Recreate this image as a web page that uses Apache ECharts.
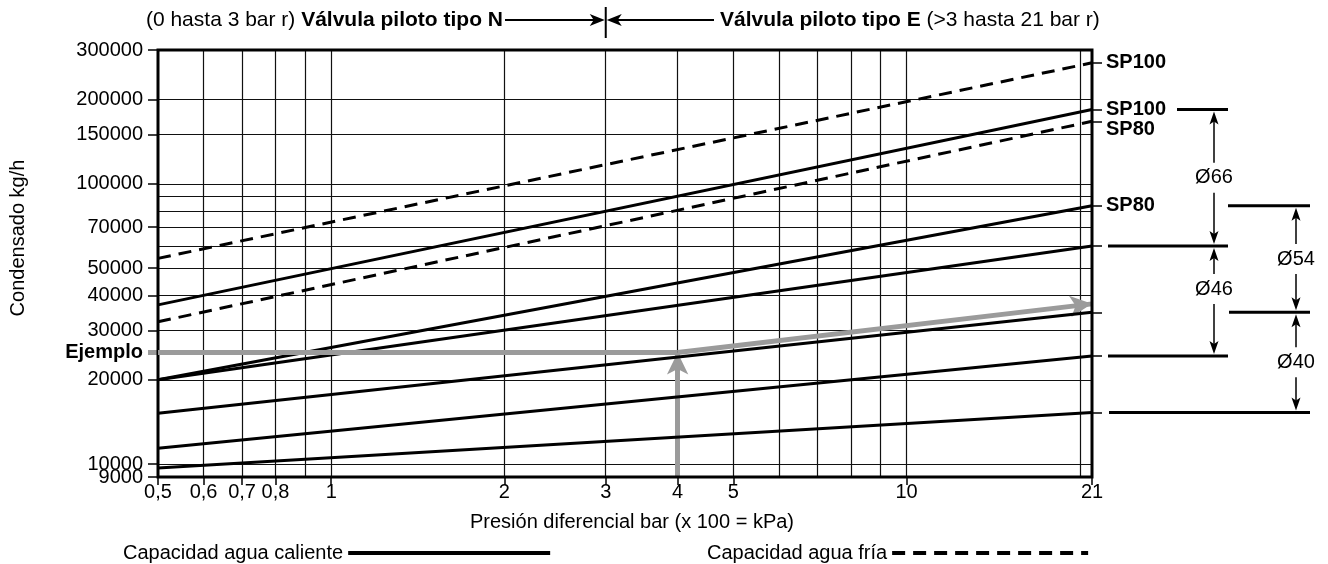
<!DOCTYPE html>
<html><head><meta charset="utf-8">
<script src="https://cdn.jsdelivr.net/npm/echarts@6/dist/echarts.min.js"></script>
<style>html,body{margin:0;padding:0;background:#fff}#c{width:1328px;height:564px}</style>
</head><body><div id="c"></div>
<script>
// ---- data ----
const xTickLabels = [0.5, 0.6, 0.7, 0.8, 1, 2, 3, 4, 5, 10, 21];
const yTickLabels = [9000, 10000, 20000, 30000, 40000, 50000, 70000, 100000, 150000, 200000, 300000];
const xGrid = [0.6, 0.7, 0.8, 0.9, 1, 2, 3, 4, 5, 6, 7, 8, 9, 10, 20];
const yGrid = [10000, 20000, 30000, 40000, 50000, 60000, 70000, 80000, 90000, 100000, 150000, 200000];
const pressureEnds = [0.5, 21];            // bar
// hot water capacity (solid), kg/h at 0.5 and 21 bar
const hotSP100 = [37000, 184000];
const hotSP80 = [20000, 83500];
const hotC = [20000, 60000];
const hotD = [15200, 34800];
const hotE = [11400, 24300];
const hotF = [9700, 15300];
// cold water capacity (dashed)
const coldSP100 = [54200, 270000];
const coldSP80 = [32200, 167000];
// example
const examplePressure = 4;
const exampleFlow = 25000;
const exampleEnd = [21, 37300];
// size bands on the right: [label, upper flow, lower flow]
const bands = [['Ø66', 184000, 60000], ['Ø46', 60000, 24300], ['Ø54', 83500, 34800], ['Ø40', 34800, 15300]];

const hotName = 'Capacidad agua caliente', coldName = 'Capacidad agua fría';
const F = '"Liberation Sans", Arial, Helvetica, sans-serif';
const FS = 20;

function seg(ends) { return [[pressureEnds[0], ends[0]], [pressureEnds[1], ends[1]]]; }
function curve(name, ends, dashed, label, off) {
  return {
    type: 'line', name: name, data: seg(ends), symbol: 'none', z: 5, silent: true,
    itemStyle: { color: '#000' },
    lineStyle: { color: '#000', width: 3, type: dashed ? [13, 8] : 'solid' },
    endLabel: label ? { show: true, formatter: label, distance: 14, offset: off || [0, 0],
      fontFamily: F, fontSize: FS, fontWeight: 'bold', color: '#000' } : { show: false }
  };
}
const gray = '#9b9b9b';
const chart = echarts.init(document.getElementById('c'));
const legendCommon = { top: 538, align: 'right', itemHeight: 14, selectedMode: false,
  itemStyle: { opacity: 0 }, lineStyle: { width: 4 }, textStyle: { fontFamily: F, fontSize: FS, color: '#000' } };
const logY = { type: 'log', logBase: 10, min: 9000, max: 300000, axisLine: { show: false }, splitLine: { show: false } };
const yLabelStyle = { margin: 15, fontFamily: F, fontSize: FS, color: '#000', showMinLabel: true, showMaxLabel: true,
  hideOverlap: false, formatter: v => String(Math.round(v)) };
const option = {
  animation: false,
  grid: { left: 158, right: 236, top: 50, bottom: 87, show: true, borderColor: '#000', borderWidth: 3, z: 6 },
  xAxis: {
    type: 'log', logBase: 10, min: 0.5, max: 21,
    axisLine: { show: false },
    axisTick: { show: true, customValues: xTickLabels, length: 8, inside: false, lineStyle: { color: '#000', width: 1.5 } },
    axisLabel: { customValues: xTickLabels, margin: 5, fontFamily: F, fontSize: FS, color: '#000',
      showMinLabel: true, showMaxLabel: true, hideOverlap: false,
      formatter: v => String(v).replace('.', ',') },
    splitLine: { show: false }, minorSplitLine: { show: false }
  },
  yAxis: [
    Object.assign({}, logY, { position: 'left',
      axisTick: { show: true, customValues: yTickLabels, length: 10, lineStyle: { color: '#000', width: 1.5 } },
      axisLabel: Object.assign({ customValues: yTickLabels.filter(v => v !== yTickLabels[0]) }, yLabelStyle) }),
    Object.assign({}, logY, { position: 'left',
      axisTick: { show: false },
      axisLabel: Object.assign({}, yLabelStyle, { customValues: [yTickLabels[0]] }) }),
    Object.assign({}, logY, { position: 'left',
      axisTick: { show: true, customValues: [exampleFlow], length: 10, lineStyle: { color: gray, width: 5 } },
      axisLabel: { customValues: [exampleFlow], margin: 15, fontFamily: F, fontSize: FS, fontWeight: 'bold', color: '#000',
        formatter: () => 'Ejemplo' } }),
    Object.assign({}, logY, { position: 'right',
      axisTick: { show: true, customValues: [coldSP100[1], hotSP100[1], coldSP80[1], hotSP80[1], hotC[1], hotD[1], hotE[1], hotF[1]],
        length: 10, lineStyle: { color: '#000', width: 1.5 } },
      axisLabel: { show: false } })
  ],
  legend: [
    Object.assign({ data: [hotName], left: 118, itemWidth: 202 }, legendCommon),
    Object.assign({ data: [coldName], left: 702, itemWidth: 196 }, legendCommon)
  ],
  series: [
    {
      type: 'line', data: [], silent: true, z: 1, symbol: 'none',
      markLine: { silent: true, symbol: 'none', label: { show: false },
        lineStyle: { color: '#111', width: 1.2, type: 'solid' },
        data: xGrid.map(v => ({ xAxis: v })).concat(yGrid.map(v => ({ yAxis: v }))) }
    },
    curve(hotName, hotSP100, false, 'SP100'),
    curve(hotName, hotSP80, false, 'SP80'),
    curve(hotName, hotC, false),
    curve(hotName, hotD, false),
    curve(hotName, hotE, false),
    curve(hotName, hotF, false),
    curve(coldName, coldSP100, true, 'SP100'),
    curve(coldName, coldSP80, true, 'SP80', [0, 8]),
    {
      type: 'line', data: [[pressureEnds[0], exampleFlow], [examplePressure, exampleFlow]], symbol: 'none', z: 7, silent: true,
      lineStyle: { color: gray, width: 5 },
      markLine: { silent: true, symbol: ['none', 'arrow'], symbolSize: [16, 22], label: { show: false },
        lineStyle: { color: gray, width: 5, type: 'solid' },
        data: [
          [{ coord: [examplePressure, 9000] }, { coord: [examplePressure, exampleFlow] }],
          [{ coord: [examplePressure, exampleFlow] }, { coord: exampleEnd }]
        ] }
    }
  ]
};
chart.setOption(option);

// ---- annotations outside the plot, positioned through the axes ----
const px = v => chart.convertToPixel({ xAxisIndex: 0 }, v);
const py = v => chart.convertToPixel({ yAxisIndex: 0 }, v);
const g = [];
const blk = '#000';
function hline(x1, x2, y, w) { g.push({ type: 'line', shape: { x1, y1: y, x2, y2: y }, style: { stroke: blk, lineWidth: w } }); }
function vline(x, y1, y2, w) { g.push({ type: 'line', shape: { x1: x, y1, x2: x, y2 }, style: { stroke: blk, lineWidth: w } }); }
function head(x, y, dir) { // tip at x,y
  let p;
  if (dir === 'up') p = [[x, y], [x - 4.5, y + 13], [x, y + 10], [x + 4.5, y + 13]];
  if (dir === 'down') p = [[x, y], [x - 4.5, y - 13], [x, y - 10], [x + 4.5, y - 13]];
  if (dir === 'right') p = [[x, y], [x - 15, y - 6], [x - 11, y], [x - 15, y + 6]];
  if (dir === 'left') p = [[x, y], [x + 15, y - 6], [x + 11, y], [x + 15, y + 6]];
  g.push({ type: 'polygon', shape: { points: p }, style: { fill: blk } });
}
function text(x, y, t, opt) {
  g.push({ type: 'text', x, y, rotation: (opt && opt.rot) || 0, style: Object.assign({ text: t, fontFamily: F, fontSize: FS, fill: blk,
    textAlign: 'center', textVerticalAlign: 'middle' }, opt && opt.style) });
}
// band horizontal lines
const yS100 = py(hotSP100[1]), yS80 = py(hotSP80[1]), yC = py(hotC[1]), yD = py(hotD[1]), yE = py(hotE[1]), yF = py(hotF[1]);
hline(1177, 1228, yS100, 3);
hline(1228, 1310, yS80, 3);
hline(1108, 1228, yC, 3);
hline(1229, 1310, yD, 3);
hline(1108, 1228, yE, 3);
hline(1109, 1310, yF, 3);
// dimension arrows
function dim(x, yTop, yBot, label, yLab) {
  vline(x, yTop + 8, yLab - 15, 1.5);
  vline(x, yLab + 15, yBot - 8, 1.5);
  head(x, yTop + 2, 'up');
  head(x, yBot - 2, 'down');
  text(x, yLab, label);
}
bands.forEach(([lab, hi, lo]) => {
  const x = (lab === 'Ø66' || lab === 'Ø46') ? 1214 : 1296;
  const yt = py(hi), yb = py(lo);
  let yl = (yt + yb) / 2;
  if (lab === 'Ø46') yl -= 12;
  dim(x, yt, yb, lab, yl);
});
// axis titles
text(18, 238, 'Condensado kg/h', { rot: Math.PI / 2 });
text(632, 522, 'Presión diferencial bar (x 100 = kPa)');
// header with pilot valve ranges
const x3 = px(3);
const HS = 21;
g.push({ type: 'text', x: 503, y: 20, style: { text: '(0 hasta 3 bar r) {b|Válvula piloto tipo N}', rich: { b: { fontWeight: 'bold', fontFamily: F, fontSize: HS } },
  fontFamily: F, fontSize: HS, fill: blk, textAlign: 'right', textVerticalAlign: 'middle' } });
hline(505, x3 - 8, 20, 2);
head(x3 - 1, 20, 'right');
vline(x3, 7, 38, 2);
hline(x3 + 8, 714, 20, 2);
head(x3 + 1, 20, 'left');
g.push({ type: 'text', x: 720, y: 20, style: { text: '{b|Válvula piloto tipo E} (>3 hasta 21 bar r)', rich: { b: { fontWeight: 'bold', fontFamily: F, fontSize: HS } },
  fontFamily: F, fontSize: HS, fill: blk, textAlign: 'left', textVerticalAlign: 'middle' } });
chart.setOption({ graphic: g });
</script></body></html>
